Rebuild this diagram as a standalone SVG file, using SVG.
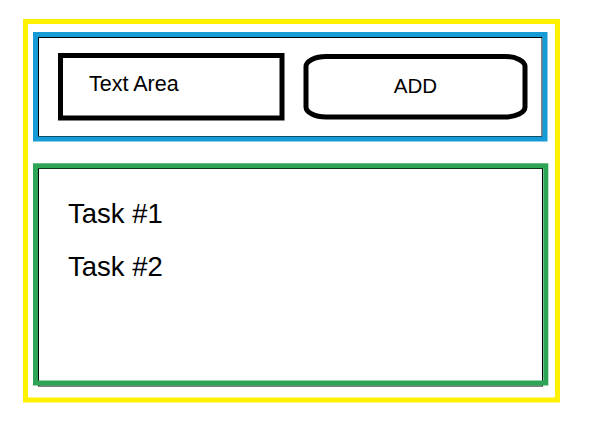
<svg xmlns="http://www.w3.org/2000/svg" width="591" height="433" viewBox="0 0 591 433">
<style>
.frame{fill:none;stroke-width:5}
.thin{fill:none;stroke:#000;stroke-width:1}
.box{fill:none;stroke:#000;stroke-width:5}
.t{font-family:"Liberation Sans",Arial,sans-serif;fill:#000}
</style>
<rect width="591" height="433" fill="#fff"/>
<g id="outer">
<rect class="frame" x="25.5" y="21.5" width="532" height="378.5" stroke="#FFF200"/>
</g>
<g id="input-panel">
<rect class="thin" x="38.5" y="37.5" width="503.5" height="99"/>
<rect class="frame" x="35.5" y="34.5" width="509.5" height="104.5" stroke="#169BD7"/>
</g>
<g id="text-area">
<rect class="box" x="60.5" y="55.5" width="221.5" height="62.5"/>
<text class="t" x="89" y="90.5" font-size="21.5">Text Area</text>
</g>
<g id="add-button">
<rect class="box" x="306" y="56.5" width="219" height="60.5" rx="20" ry="10"/>
<text class="t" x="415.5" y="92.5" font-size="20.5" text-anchor="middle">ADD</text>
</g>
<g id="task-list">
<rect class="thin" x="38.5" y="168.5" width="504" height="217.5"/>
<rect class="frame" x="35.5" y="165.8" width="510.3" height="217.2" stroke="#2EA556"/>
<text class="t" x="68" y="223.3" font-size="27.5">Task #1</text>
<text class="t" x="68" y="275.7" font-size="27.5">Task #2</text>
</g>
<g id="connectors"></g>
</svg>
